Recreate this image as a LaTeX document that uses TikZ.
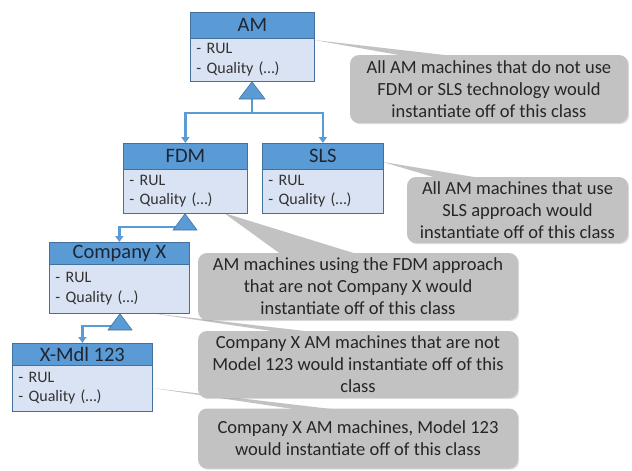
\documentclass[tikz,border=0pt]{standalone}
\usepackage{fontspec}
\setmainfont{Carlito}
\usetikzlibrary{shadows,arrows.meta}

\definecolor{hdrblue}{HTML}{5B9BD5}
\definecolor{bodyblue}{HTML}{DAE3F3}
\definecolor{edgeblue}{HTML}{41719C}
\definecolor{notegray}{HTML}{C2C2C2}
\definecolor{notetext}{HTML}{262626}
\definecolor{hdrtext}{HTML}{1E2633}
\definecolor{bodytext}{HTML}{333333}

\tikzset{
  classhead/.style={draw=edgeblue, line width=0.8pt, fill=hdrblue, text=hdrtext,
    font=\fontsize{20.5}{22}\selectfont, inner sep=0pt, anchor=north west},
  classbody/.style={draw=edgeblue, line width=0.8pt, fill=bodyblue, text=bodytext,
    font=\fontsize{16}{19.5}\selectfont, inner xsep=6pt, inner ysep=0pt,
    align=left, anchor=north west},
  note/.style={fill=notegray, rounded corners=9pt, text=notetext, align=center,
    font=\fontsize{18.5}{22}\selectfont, inner sep=0pt,
    drop shadow={opacity=0.25, shadow xshift=1.2pt, shadow yshift=-1.2pt}},
  wedge/.style={fill=notegray},
  conn/.style={draw=hdrblue, line width=2.6pt},
  connarrow/.style={conn, -{Triangle[width=8pt,length=6pt]}},
  inherit/.style={fill=hdrblue, draw=edgeblue, line width=0.6pt, line join=round},
}

\begin{document}
\begin{tikzpicture}[x=1pt,y=-1pt]
  \useasboundingbox (0,0) rectangle (632,471);
  \fill[white] (0,0) rectangle (632,471);

  % pointer tips on the class boxes
  \coordinate (tipam)  at (314,40);
  \coordinate (tipsls) at (383,162);
  \coordinate (tipfdm) at (224,213);
  \coordinate (tipcx)  at (150,313);
  \coordinate (tipxm)  at (152,388);

  % callout pointers
  \fill[wedge] (tipam)  -- (410,57) -- (462,57) -- cycle;
  \fill[wedge] (tipsls) -- (440,179) -- (486,179) -- cycle;
  \fill[wedge] (tipfdm) -- (282,255) -- (360,255) -- cycle;
  \fill[wedge] (tipcx)  -- (285,333) -- (322,333) -- cycle;
  \fill[wedge] (tipxm)  -- (300,410) -- (340,410) -- cycle;

  % callouts
  \node[note, minimum width=278pt, minimum height=68pt] (n1) at (489,89)
    {All AM machines that do not use\\FDM or SLS technology would\\instantiate off of this class};
  \node[note, minimum width=221pt, minimum height=66pt] (n2) at (517.5,210)
    {All AM machines that use\\SLS approach would\\instantiate off of this class};
  \node[note, minimum width=320pt, minimum height=67pt] (n3) at (358,286.5)
    {AM machines using the FDM approach\\that are not Company X would\\instantiate off of this class};
  \node[note, minimum width=320pt, minimum height=67pt] (n4) at (358,364.5)
    {Company X AM machines that are not\\Model 123 would instantiate off of this\\class};
  \node[note, minimum width=320pt, minimum height=60pt] (n5) at (358,438.5)
    {Company X AM machines, Model 123\\would instantiate off of this class};

  % class boxes
  \node[classhead, minimum width=124pt, minimum height=26pt] (amh) at (190,12) {AM};
  \node[classbody, minimum width=124pt, minimum height=43pt, text width=112pt] (amb) at (190,38)
    {- RUL\\- Quality (…)};

  \node[classhead, minimum width=124pt, minimum height=26pt] (fdmh) at (123,143) {FDM};
  \node[classbody, minimum width=124pt, minimum height=44pt, text width=112pt] (fdmb) at (123,169)
    {- RUL\\- Quality (…)};

  \node[classhead, minimum width=121pt, minimum height=26pt] (slsh) at (262,143) {SLS};
  \node[classbody, minimum width=121pt, minimum height=44pt, text width=109pt] (slsb) at (262,169)
    {- RUL\\- Quality (…)};

  \node[classhead, minimum width=140pt, minimum height=22pt] (cxh) at (49,242) {Company X};
  \node[classbody, minimum width=140pt, minimum height=49pt, text width=128pt] (cxb) at (49,264)
    {- RUL\\- Quality (…)};

  \node[classhead, minimum width=140pt, minimum height=22pt] (xmh) at (12,343) {X-Mdl 123};
  \node[classbody, minimum width=140pt, minimum height=46pt, text width=128pt] (xmb) at (12,365)
    {- RUL\\- Quality (…)};

  % generalisation connectors
  \coordinate (jam)  at (252,113);
  \coordinate (jfdm) at (185,227);
  \coordinate (jcx)  at (120,326);
  \draw[conn] (252,99) -- (jam);
  \draw[connarrow] (jam) -| (fdmh.north);
  \draw[connarrow] (jam) -| (slsh.north);
  \draw[connarrow] (jfdm) -| (cxh.north);
  \draw[connarrow] (jcx) -| (xmh.north);

  % inheritance triangles
  \draw[inherit] (amb.south -| 252,0) -- (265,99) -- (239,99) -- cycle;
  \draw[inherit] (fdmb.south -| 185,0) -- (197,230) -- (173,230) -- cycle;
  \draw[inherit] (cxb.south -| 120,0) -- (132,330) -- (108,330) -- cycle;
\end{tikzpicture}
\end{document}
